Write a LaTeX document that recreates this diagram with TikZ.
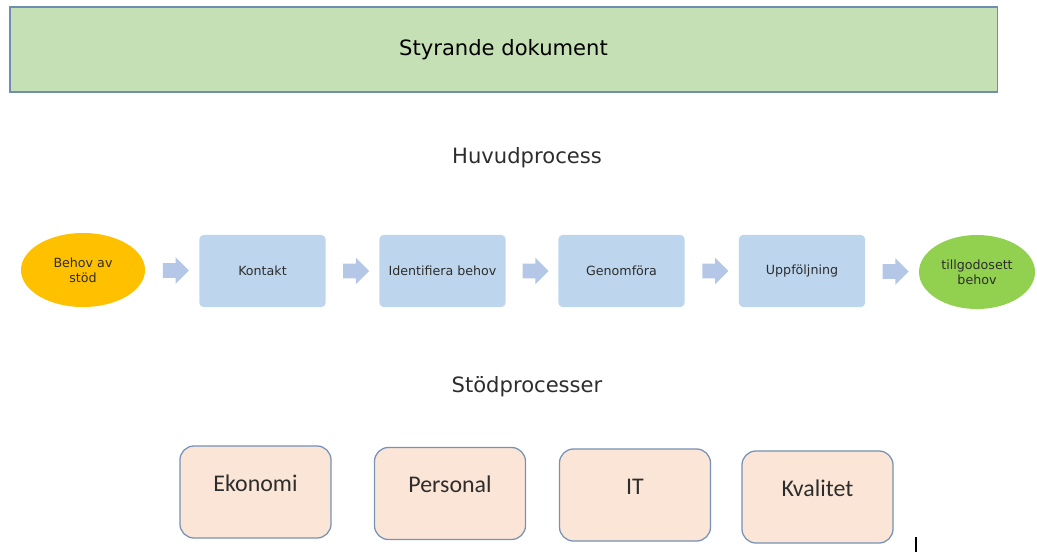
\documentclass[tikz,border=0pt]{standalone}
\usepackage{fontspec}
\setmainfont{DejaVu Sans}
\newfontfamily\calibrifont{Carlito}
\usetikzlibrary{shapes.geometric,shapes.arrows,calc}

\definecolor{titlegreen}{RGB}{197,224,180}
\definecolor{titleedge}{RGB}{112,142,178}
\definecolor{stepblue}{RGB}{189,214,238}
\definecolor{arrowblue}{RGB}{180,199,231}
\definecolor{startorange}{RGB}{255,192,0}
\definecolor{endgreen}{RGB}{146,208,80}
\definecolor{supportfill}{RGB}{251,229,214}
\definecolor{supportedge}{RGB}{118,146,182}
\definecolor{textgray}{RGB}{45,45,45}

\tikzset{
  stepbox/.style={fill=stepblue,rounded corners=0.1cm,minimum width=3.15cm,
    minimum height=1.8cm,font=\fontsize{9}{11}\selectfont,text=textgray},
  endpoint/.style={ellipse,minimum width=3.1cm,minimum height=1.85cm,inner sep=0pt,
    align=center,font=\fontsize{9}{10.5}\selectfont,text=textgray},
  flowarrow/.style={single arrow,fill=arrowblue,inner sep=0pt,text height=0.35cm,
    minimum height=0.65cm,single arrow head extend=0.15cm},
  supportbox/.style={draw=supportedge,line width=0.9pt,fill=supportfill,rounded corners=0.35cm,
    minimum width=3.775cm,minimum height=2.3cm,text height=0.45cm,text depth=0.5cm,
    font=\calibrifont\fontsize{17}{20}\selectfont,text=textgray},
  heading/.style={font=\fontsize{15}{18}\selectfont,text=textgray}
}

\begin{document}
\begin{tikzpicture}[x=0.025cm,y=-0.025cm]
    \useasboundingbox (0,0) rectangle (1037,553);

 \node[draw=titleedge,line width=0.9pt,fill=titlegreen,minimum width=24.675cm,minimum height=2.125cm,
       font=\fontsize{15}{18}\selectfont] (styr) at (503.5,49.5) {Styrande dokument};

 \node[heading] (huvud) at (527,158) {Huvudprocess};

 % main process, left to right
 \node[endpoint,fill=startorange] (behov) at (83,270) {Behov av\\stöd};
 \node[stepbox] (kontakt) at (262.5,271) {Kontakt};
 \node[stepbox] (ident) at (442.5,271) {Identifiera behov};
 \node[stepbox] (genom) at (621.5,271) {Genomföra};
 \node[stepbox] (uppf) at (802,271) {Uppföljning};
 \node[endpoint,fill=endgreen,minimum width=2.9cm] (klar) at (977,272) {tillgodosett\\behov};

 \foreach \a/\b in {behov/kontakt,kontakt/ident,ident/genom,genom/uppf,uppf/klar}
    \node[flowarrow] (pil-\a) at ($(\a.east)!0.5!(\b.west)$) {};

 \node[heading] (stod) at (527,387) {Stödprocesser};

 % support processes
 \node[supportbox] (eko) at (255.5,492) {Ekonomi};
 \node[supportbox] (pers) at (450,493.5) {Personal};
 \node[supportbox] (it) at (635,495) {IT};
 \node[supportbox] (kval) at (817.5,497) {Kvalitet};

 \draw[line width=0.8pt] (916,537) -- (916,552);

\end{tikzpicture}
\end{document}
